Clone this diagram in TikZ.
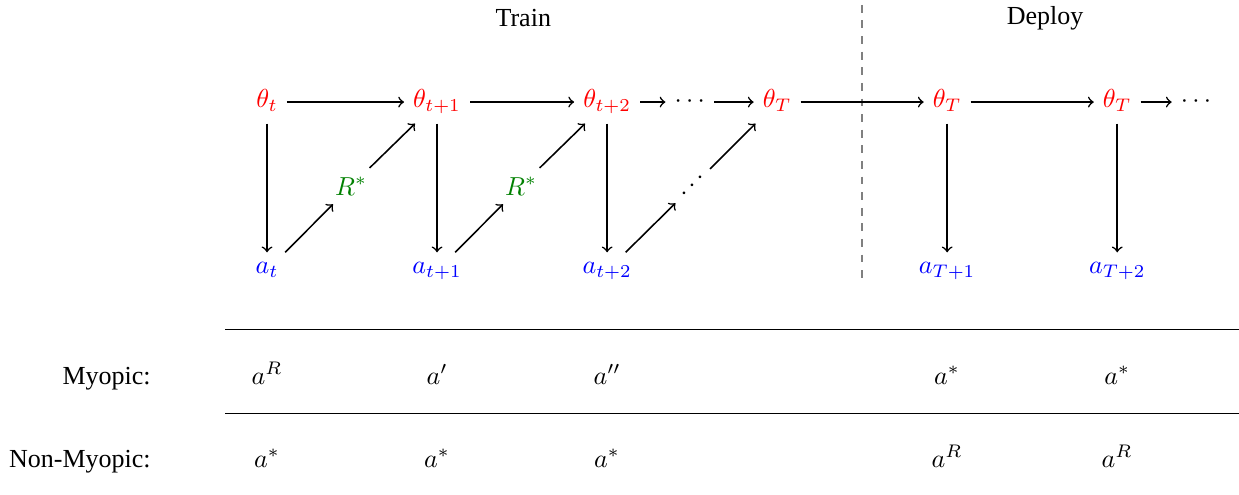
\documentclass[tikz,border=0pt]{standalone}
\usepackage[no-math]{fontspec}
\setmainfont{Liberation Serif}
\usetikzlibrary{arrows.meta}
\definecolor{cparam}{RGB}{255,0,0}
\definecolor{cact}{RGB}{0,0,255}
\definecolor{crew}{RGB}{0,128,0}

\begin{document}
\begin{tikzpicture}[>=to,
  th/.style={text=cparam,text height=7pt,text depth=2.5pt},
  act/.style={text=cact,text height=4.5pt,text depth=2.5pt},
  rew/.style={text=crew},
  dots/.style={text height=7pt,text depth=2.5pt},
  arr/.style={->,semithick},
  rowlab/.style={anchor=base east},
  cell/.style={anchor=base}]
 \useasboundingbox (0,0) rectangle (16.74,6.676);
 \def\yt{5.297}\def\yr{4.162}\def\ya{3.02}
 % ---- phase labels and split ----
 \node (train) at (7.07,6.43) {Train};
 \node (deploy) at (14.12,6.43) {Deploy};
 \draw[gray,thick,dashed] (11.65,6.61) -- (11.65,2.85);
 % ---- parameters ----
 \node[th] (th0) at (3.608,\yt) {$\theta_t$};
 \node[th] (th1) at (5.905,\yt) {$\theta_{t+1}$};
 \node[th] (th2) at (8.203,\yt) {$\theta_{t+2}$};
 \node[dots] (thd) at (9.32,\yt) {$\cdots$};
 \node[th] (thT) at (10.5,\yt) {$\theta_T$};
 \node[th] (thA) at (12.797,\yt) {$\theta_T$};
 \node[th] (thB) at (15.095,\yt) {$\theta_T$};
 \node[dots] (the) at (16.16,\yt) {$\cdots$};
 % ---- rewards ----
 \node[rew] (r0) at (4.743,\yr) {$R^*$};
 \node[rew] (r1) at (7.04,\yr) {$R^*$};
 \node[rotate=45] (rd) at (9.36,\yr) {$\cdots$};
 % ---- actions ----
 \node[act] (a0) at (3.608,\ya) {$a_t$};
 \node[act] (a1) at (5.905,\ya) {$a_{t+1}$};
 \node[act] (a2) at (8.203,\ya) {$a_{t+2}$};
 \node[act] (aA) at (12.797,\ya) {$a_{T+1}$};
 \node[act] (aB) at (15.095,\ya) {$a_{T+2}$};
 % ---- arrows ----
 \foreach \a/\b in {th0/th1,th1/th2,th2/thd,thd/thT,thT/thA,thA/thB,thB/the,
   a0/r0,r0/th1,a1/r1,r1/th2,a2/rd,rd/thT}
   \draw[arr] (\a) -- (\b);
 \foreach \i in {0,1,2,A,B}
   \draw[arr] (th\i) -- (a\i);
 % ---- table ----
 \draw (3.04,2.23) -- (16.74,2.23);
 \draw (3.04,1.095) -- (16.74,1.095);
 \node[rowlab] (myo) at (2.16,1.486) {Myopic:};
 \node[rowlab] (nmyo) at (2.16,0.365) {Non-Myopic:};
 \foreach \c/\m/\n in {0/{a^R}/{a^*},1/{a'}/{a^*},2/{a''}/{a^*},4/{a^*}/{a^R},5/{a^*}/{a^R}}{
   \node[cell] (m\c) at ({3.608+\c*2.297},1.486) {$\m$};
   \node[cell] (n\c) at ({3.608+\c*2.297},0.365) {$\n$};}
\end{tikzpicture}
\end{document}
